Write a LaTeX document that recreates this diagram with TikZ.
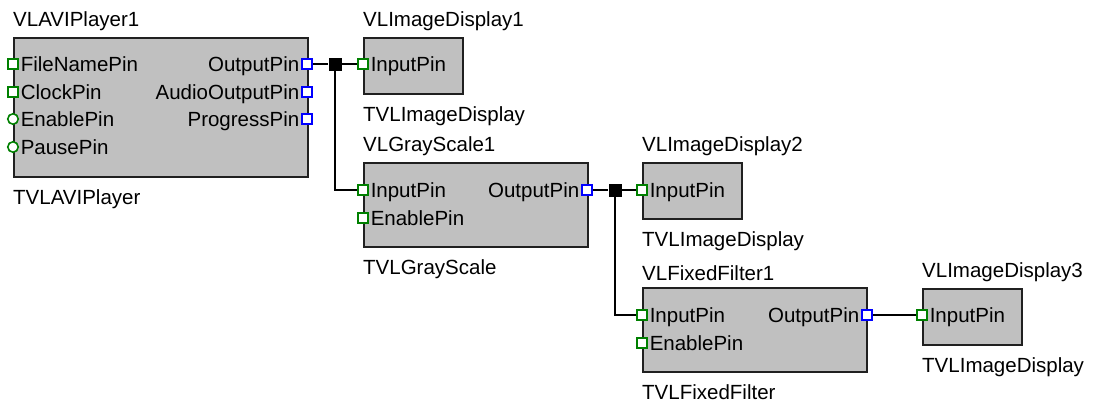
\documentclass[tikz,border=0pt]{standalone}
\usepackage{fontspec}
\setmainfont{Liberation Sans}
\usetikzlibrary{positioning}
\definecolor{vlgray}{HTML}{C0C0C0}
\definecolor{vlframe}{HTML}{202020}
\definecolor{vlgreen}{HTML}{008000}
\definecolor{vlblue}{HTML}{0000FF}

\begin{document}
\begin{tikzpicture}[
  x=1pt, y=-1pt,
  font=\fontsize{20.5}{24}\selectfont,
  comp/.style={
    draw=vlframe, fill=vlgray, line width=2pt,
    anchor=north west, inner sep=0pt
  },
  inpin/.style={
    draw=vlgreen, fill=white, line width=1.6pt,
    minimum size=10.5pt, inner sep=0pt
  },
  inpinc/.style={inpin, circle},
  outpin/.style={
    draw=vlblue, fill=white, line width=1.6pt,
    minimum size=10.5pt, inner sep=0pt
  },
  junc/.style={fill=black, minimum size=13pt, inner sep=0pt},
  pinlabel/.style={inner sep=0pt, text height=14.7pt, text depth=0pt},
  toplabel/.style={inner sep=0pt, anchor=south west},
  botlabel/.style={inner sep=0pt, anchor=north west},
  wire/.style={line width=1.3pt, black}
]
\useasboundingbox (0,0) rectangle (1093,402);

% ---- Components ----
\node[comp, minimum width=294pt, minimum height=139pt] (avi) at (13,37) {};
\node[comp, minimum width=99pt, minimum height=56pt] (disp1) at (363,37) {};
\node[comp, minimum width=224pt, minimum height=84pt] (gray) at (363,162) {};
\node[comp, minimum width=99pt, minimum height=56pt] (disp2) at (642,162) {};
\node[comp, minimum width=224pt, minimum height=84pt] (filt) at (642,287) {};
\node[comp, minimum width=99pt, minimum height=56pt] (disp3) at (922,288) {};

% Names above, classes below
\node[toplabel, above right=6pt and 0pt of avi.north west] {VLAVIPlayer1};
\node[botlabel, below right=11pt and 0pt of avi.south west] {TVLAVIPlayer};
\node[toplabel, above right=6pt and 0pt of disp1.north west] {VLImageDisplay1};
\node[botlabel, below right=11pt and 0pt of disp1.south west] {TVLImageDisplay};
\node[toplabel, above right=6pt and 0pt of gray.north west] {VLGrayScale1};
\node[botlabel, below right=11pt and 0pt of gray.south west] {TVLGrayScale};
\node[toplabel, above right=6pt and 0pt of disp2.north west] {VLImageDisplay2};
\node[botlabel, below right=11pt and 0pt of disp2.south west] {TVLImageDisplay};
\node[toplabel, above right=6pt and 0pt of filt.north west] {VLFixedFilter1};
\node[botlabel, below right=11pt and 0pt of filt.south west] {TVLFixedFilter};
\node[toplabel, above right=6pt and 0pt of disp3.north west] {VLImageDisplay3};
\node[botlabel, below right=11pt and 0pt of disp3.south west] {TVLImageDisplay};

% ---- Pins ----
\node[inpin] (avi-fn) at (13,64) {};
\node[inpin] (avi-clk) at (13,92) {};
\node[inpinc] (avi-en) at (13,119) {};
\node[inpinc] (avi-pause) at (13,147) {};
\node[outpin] (avi-out) at (307,64) {};
\node[outpin] (avi-audio) at (307,92) {};
\node[outpin] (avi-prog) at (307,119) {};

\node[pinlabel, right=1.5pt of avi-fn] {FileNamePin};
\node[pinlabel, right=1.5pt of avi-clk] {ClockPin};
\node[pinlabel, right=1.5pt of avi-en] {EnablePin};
\node[pinlabel, right=1.5pt of avi-pause] {PausePin};
\node[pinlabel, left=1.5pt of avi-out] {OutputPin};
\node[pinlabel, left=1.5pt of avi-audio] {AudioOutputPin};
\node[pinlabel, left=1.5pt of avi-prog] {ProgressPin};

\node[inpin] (disp1-in) at (363,64) {};
\node[pinlabel, right=1.5pt of disp1-in] {InputPin};

\node[inpin] (gray-in) at (363,190) {};
\node[inpin] (gray-en) at (363,218) {};
\node[outpin] (gray-out) at (587,190) {};
\node[pinlabel, right=1.5pt of gray-in] {InputPin};
\node[pinlabel, right=1.5pt of gray-en] {EnablePin};
\node[pinlabel, left=1.5pt of gray-out] {OutputPin};

\node[inpin] (disp2-in) at (642,190) {};
\node[pinlabel, right=1.5pt of disp2-in] {InputPin};

\node[inpin] (filt-in) at (642,315) {};
\node[inpin] (filt-en) at (642,343) {};
\node[outpin] (filt-out) at (867,315) {};
\node[pinlabel, right=1.5pt of filt-in] {InputPin};
\node[pinlabel, right=1.5pt of filt-en] {EnablePin};
\node[pinlabel, left=1.5pt of filt-out] {OutputPin};

\node[inpin] (disp3-in) at (922,315) {};
\node[pinlabel, right=1.5pt of disp3-in] {InputPin};

% ---- Junctions ----
\node[junc] (j1) at (335,64) {};
\node[junc] (j2) at (615,190) {};

% ---- Wires ----
\draw[wire] (avi-out) -- (j1);
\draw[wire] (j1) -- (disp1-in);
\draw[wire] (j1) |- (gray-in);
\draw[wire] (gray-out) -- (j2);
\draw[wire] (j2) -- (disp2-in);
\draw[wire] (j2) |- (filt-in);
\draw[wire] (filt-out) -- (disp3-in);

\end{tikzpicture}
\end{document}
